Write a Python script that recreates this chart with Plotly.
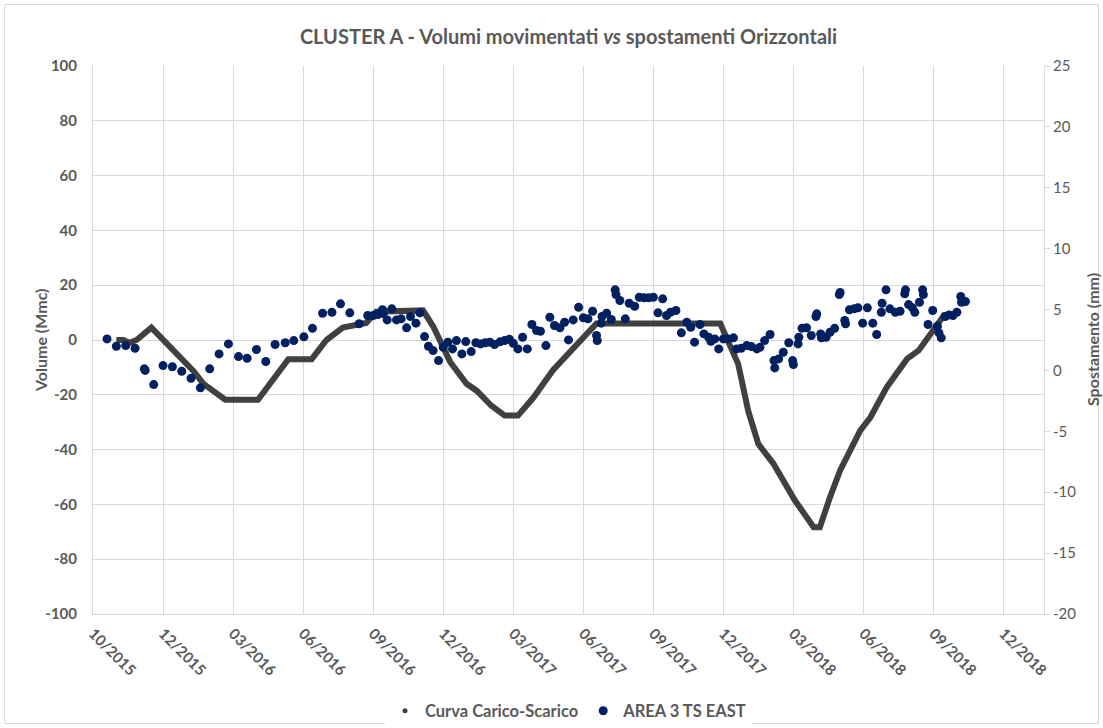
import plotly.graph_objects as go

# ---- Data ----
curve_dates = [
    "2015-10-31", "2015-11-09", "2015-11-17", "2015-11-26", "2015-12-15",
    "2016-02-07", "2016-02-20", "2016-03-19", "2016-04-30", "2016-06-08",
    "2016-07-08", "2016-07-27", "2016-08-17", "2016-09-08", "2016-09-16",
    "2016-09-29", "2016-11-28", "2016-12-11", "2016-12-22", "2017-01-02",
    "2017-01-23", "2017-02-05", "2017-02-24", "2017-03-13", "2017-03-30",
    "2017-04-19", "2017-05-14", "2017-06-07", "2017-07-09", "2017-12-15",
    "2017-12-23", "2018-01-07", "2018-01-20", "2018-02-02", "2018-02-21",
    "2018-03-21", "2018-04-14", "2018-04-22", "2018-05-05", "2018-05-18",
    "2018-06-13", "2018-06-26", "2018-07-17", "2018-08-12", "2018-08-27",
    "2018-09-15", "2018-09-30",
]
curve_vol = [
    0, 0, -1, 0, 4.5,
    -11.3, -16, -21.8, -21.8, -7,
    -7, 0, 4.5, 5.9, 6.2,
    10.3, 10.8, 5, -1, -8,
    -16, -18.5, -24, -27.6, -27.6,
    -21, -11, -4, 6, 6,
    1, -8.7, -26, -38, -45,
    -58.6, -68.3, -68.3, -57.4, -47.6,
    -33, -28.2, -17.2, -6.9, -3.8,
    3.5, 9.6,
]

area_dates = [
    "2015-10-19", "2015-10-31", "2015-11-12", "2015-11-24", "2015-12-06", "2015-12-07",
    "2015-12-18", "2015-12-30", "2016-01-11", "2016-01-23", "2016-02-04", "2016-02-16",
    "2016-02-28", "2016-03-11", "2016-03-23", "2016-04-05", "2016-04-16", "2016-04-28",
    "2016-05-10", "2016-05-22", "2016-06-04", "2016-06-15", "2016-06-28", "2016-07-09",
    "2016-07-22", "2016-08-03", "2016-08-14", "2016-08-26", "2016-09-07", "2016-09-18",
    "2016-09-25", "2016-10-01", "2016-10-07", "2016-10-08", "2016-10-13", "2016-10-19",
    "2016-10-25", "2016-10-31", "2016-11-07", "2016-11-12", "2016-11-19", "2016-11-24",
    "2016-11-30", "2016-12-05", "2016-12-11", "2016-12-18", "2016-12-24", "2016-12-30",
    "2017-01-05", "2017-01-10", "2017-01-17", "2017-01-22", "2017-01-29", "2017-02-04",
    "2017-02-10", "2017-02-16", "2017-02-22", "2017-02-28", "2017-03-07", "2017-03-13",
    "2017-03-19", "2017-03-24", "2017-03-30", "2017-04-05", "2017-04-11", "2017-04-17",
    "2017-04-23", "2017-04-28", "2017-05-05", "2017-05-10", "2017-05-16", "2017-05-23",
    "2017-05-29", "2017-06-03", "2017-06-09", "2017-06-16", "2017-06-22", "2017-06-28",
    "2017-07-04", "2017-07-09", "2017-07-10", "2017-07-15", "2017-07-16", "2017-07-22",
    "2017-07-28", "2017-08-02", "2017-08-03", "2017-08-08", "2017-08-15", "2017-08-20",
    "2017-08-27", "2017-09-02", "2017-09-08", "2017-09-14", "2017-09-20", "2017-09-26",
    "2017-10-02", "2017-10-07", "2017-10-12", "2017-10-19", "2017-10-26", "2017-11-02",
    "2017-11-07", "2017-11-12", "2017-11-19", "2017-11-24", "2017-11-30", "2017-12-03",
    "2017-12-08", "2017-12-13", "2017-12-19", "2017-12-25", "2018-01-01", "2018-01-05",
    "2018-01-11", "2018-01-18", "2018-01-24", "2018-01-31", "2018-02-04", "2018-02-10",
    "2018-02-17", "2018-02-22", "2018-02-23", "2018-02-28", "2018-03-06", "2018-03-13",
    "2018-03-18", "2018-03-19", "2018-03-25", "2018-03-26", "2018-03-30", "2018-04-05",
    "2018-04-11", "2018-04-17", "2018-04-18", "2018-04-23", "2018-04-24", "2018-04-30",
    "2018-05-05", "2018-05-11", "2018-05-17", "2018-05-18", "2018-05-24", "2018-05-25",
    "2018-05-30", "2018-06-05", "2018-06-10", "2018-06-16", "2018-06-22", "2018-06-29",
    "2018-07-04", "2018-07-10", "2018-07-11", "2018-07-16", "2018-07-21", "2018-07-28",
    "2018-08-03", "2018-08-09", "2018-08-10", "2018-08-14", "2018-08-19", "2018-08-22",
    "2018-08-28", "2018-09-01", "2018-09-02", "2018-09-08", "2018-09-14", "2018-09-20",
    "2018-09-22", "2018-09-25", "2018-09-30", "2018-10-05", "2018-10-10", "2018-10-15",
    "2018-10-20", "2018-10-21", "2018-10-26",
]
area_mm = [
    2.59, 1.99, 2.04, 1.82, 0.13, 0.0,
    -1.16, 0.40, 0.30, -0.07, -0.64, -1.43,
    0.13, 1.36, 2.18, 1.14, 1.00, 1.72,
    0.73, 2.13, 2.27, 2.45, 2.76, 3.46,
    4.70, 4.78, 5.47, 4.73, 3.83, 4.51,
    4.51, 4.59, 4.98, 4.67, 4.15, 5.06,
    4.15, 4.24, 3.50, 4.43, 3.88, 4.73,
    2.78, 1.99, 1.63, 0.81, 1.90, 2.32,
    1.77, 2.45, 1.36, 2.37, 1.55, 2.27,
    2.18, 2.27, 2.32, 2.13, 2.35, 2.45,
    2.56, 2.23, 1.77, 2.73, 1.77, 3.77,
    3.28, 3.22, 2.04, 4.37, 3.69, 3.50,
    3.96, 2.51, 4.15, 5.19, 4.32, 4.24,
    4.86, 2.87, 2.45, 3.88, 4.43, 4.70,
    4.18, 6.62, 6.23, 5.74, 4.24, 5.52,
    5.27, 6.01, 5.96, 5.96, 6.01, 4.73,
    5.88, 4.51, 4.78, 4.92, 3.09, 3.96,
    3.55, 2.32, 3.77, 3.00, 2.73, 2.40,
    2.59, 1.77, 2.59, 2.59, 2.68, 1.77,
    1.82, 2.04, 1.96, 1.77, 1.90, 2.45,
    2.95, 0.81, 0.21, 0.95, 1.49, 2.27,
    0.81, 0.48, 2.18, 2.73, 3.46, 3.50,
    2.87, 4.43, 4.65, 3.00, 2.68, 2.73,
    3.14, 3.46, 6.23, 6.40, 4.10, 3.83,
    4.98, 5.06, 5.14, 3.88, 5.14, 3.88,
    2.95, 4.78, 5.52, 6.62, 5.06, 4.78,
    4.86, 6.29, 6.62, 5.41, 5.14, 4.78,
    5.60, 6.62, 6.23, 3.77, 4.92, 3.63,
    3.09, 2.68, 4.43, 4.56, 4.51, 4.78,
    6.07, 5.60, 5.66,
]

vol_ticks = [-100, -80, -60, -40, -20, 0, 20, 40, 60, 80, 100]
vol_ticktext = ["-100", "-80", "-60", "-40", "-20", "0", "20", "40", "60", "80", "100"]
mm_ticks = [-20, -15, -10, -5, 0, 5, 10, 15, 20, 25]
mm_ticktext = ["-20", "-15", "-10", "-5", "0", "5", "10", "15", "20", "25"]

title_text = "CLUSTER A - Volumi movimentati <i>vs</i> spostamenti Orizzontali"
series_names = ["Curva Carico-Scarico", "AREA 3 TS EAST"]
y1_title = "Volume (Mmc)"
y2_title = "Spostamento (mm)"

# ---- Style ----
FONT = "Lato"
TXT = "#595959"
GRID = "#d9d9d9"
CURVE_COLOR = "#404040"
DOT_COLOR = "#002060"
L, R, T, B = 93, 59, 66, 114
W, H = 1103, 728
PW, PH = W - L - R, H - T - B

fig = go.Figure()

fig.add_trace(go.Scatter(
    x=curve_dates, y=curve_vol, mode="lines",
    line=dict(color=CURVE_COLOR, width=6),
    showlegend=False, yaxis="y", name=series_names[0],
))
# legend-only entry (dot symbol as in reference)
fig.add_trace(go.Scatter(
    x=[None], y=[None], mode="markers",
    marker=dict(color=CURVE_COLOR, size=5),
    name=series_names[0], showlegend=True,
))
fig.add_trace(go.Scatter(
    x=area_dates, y=area_mm, mode="markers",
    marker=dict(color=DOT_COLOR, size=9),
    name=series_names[1], yaxis="y2",
))

fig.update_layout(
    width=W, height=H,
    paper_bgcolor="white", plot_bgcolor="white",
    margin=dict(l=L, r=R, t=T, b=B, autoexpand=False),
    font=dict(family=FONT, color=TXT),
    title=dict(text="<b>" + title_text + "</b>", x=0.5, xref="paper",
               y=1 - 30 / H, yref="container", xanchor="center", yanchor="top",
               font=dict(size=20, color=TXT, family=FONT)),
    xaxis=dict(
        type="date", range=["2015-10-01", "2019-02-04"],
        tick0="2015-10-01", dtick=90 * 86400000, tickformat="%m/%Y",
        tickangle=45, showgrid=True, gridcolor=GRID, gridwidth=1,
        showline=True, linecolor=GRID, linewidth=1, zeroline=False,
        tickfont=dict(size=15, color=TXT, family=FONT, weight="bold"),
        ticks="", ticklabelstandoff=4,
    ),
    yaxis=dict(
        range=[-100, 100], tickvals=vol_ticks, ticktext=vol_ticktext,
        showgrid=True, gridcolor=GRID, gridwidth=1,
        showline=True, linecolor=GRID, zeroline=False,
        tickfont=dict(size=15, color=TXT, family=FONT, weight="bold"),
        ticks="", ticklabelstandoff=12,
    ),
    yaxis2=dict(
        range=[-20, 25], tickvals=mm_ticks, ticktext=mm_ticktext,
        overlaying="y", side="right",
        showgrid=False, zeroline=False, showline=True, linecolor=GRID,
        ticks="outside", ticklen=5, tickcolor=GRID,
        tickfont=dict(size=15, color=TXT, family=FONT),
    ),
    legend=dict(
        orientation="h", x=0.5, xanchor="center", xref="paper",
        y=(H - B - 711) / PH, yanchor="middle",
        font=dict(size=16.5, color=TXT, family=FONT, weight="bold"),
        itemwidth=30, traceorder="normal",
    ),
    annotations=[
        dict(text="<b>" + y1_title + "</b>", textangle=-90, showarrow=False,
             xref="paper", yref="paper", x=(40 - L) / PW, y=0.5,
             xanchor="center", yanchor="middle",
             font=dict(size=16, color=TXT, family=FONT)),
        dict(text="<b>" + y2_title + "</b>", textangle=-90, showarrow=False,
             xref="paper", yref="paper", x=(1092 - L) / PW, y=0.5,
             xanchor="center", yanchor="middle",
             font=dict(size=16, color=TXT, family=FONT)),
    ],
    shapes=[dict(type="rect", xref="paper", yref="paper",
                 x0=(4.5 - L) / PW, x1=(1098.5 - L) / PW,
                 y0=(H - B - 723.5) / PH, y1=1 + (T - 4.5) / PH,
                 line=dict(color=GRID, width=1), layer="below")],
)

fig.write_html("out.html",
               config={"displayModeBar": False},
               post_script="document.body.style.margin='0px';document.body.style.overflow='hidden';")
